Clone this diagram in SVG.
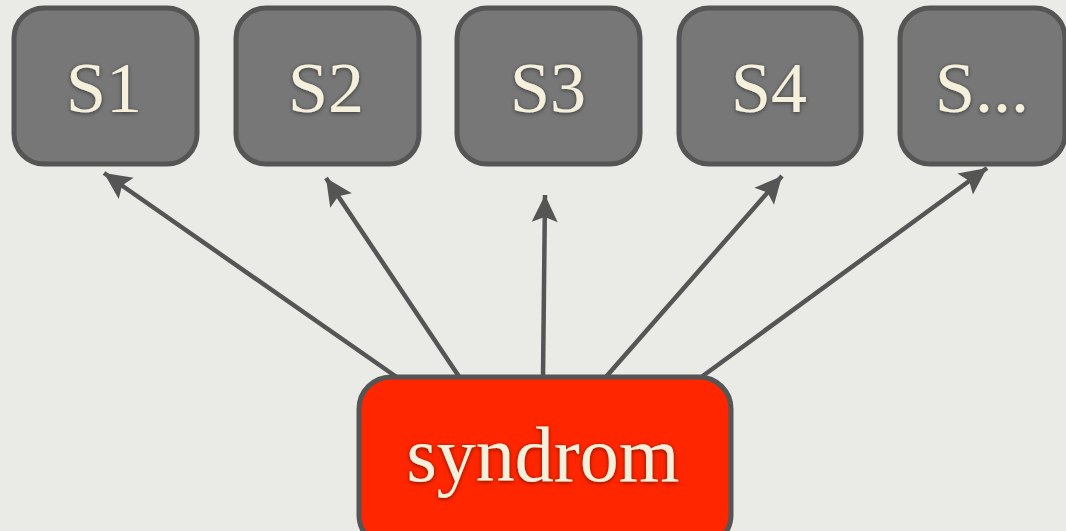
<svg xmlns="http://www.w3.org/2000/svg" width="1066" height="531" viewBox="0 0 1066 531">
<defs>
<style>
.node rect{stroke:#555555;stroke-width:5}
.g rect{fill:#777777}
.r rect{fill:#ff2600}
text{font-family:"Liberation Serif","DejaVu Serif",serif;font-size:72px;fill:#f4f0dc;text-anchor:middle;filter:url(#sh)}
.big{font-size:78px}
.edges line{stroke:#555555;stroke-width:4.5;marker-end:url(#ah)}
</style>
<filter id="sh" x="-20%" y="-20%" width="140%" height="140%">
<feDropShadow dx="0" dy="1" stdDeviation="2" flood-color="#000" flood-opacity="0.55"/>
</filter>
<marker id="ah" markerUnits="userSpaceOnUse" markerWidth="30" markerHeight="30" viewBox="0 0 30 30" refX="28" refY="15" orient="auto">
<path d="M1,2 L28,15 L1,28 L6,15 Z" fill="#555555"/>
</marker>
</defs>
<rect width="1066" height="531" fill="#eaeae7"/>
<g class="edges" id="connectors">
<line x1="398" y1="378" x2="104" y2="173"/>
<line x1="460" y1="378" x2="326" y2="178"/>
<line x1="543" y1="378" x2="545" y2="195"/>
<line x1="605" y1="378" x2="782" y2="176"/>
<line x1="700" y1="378" x2="987" y2="168"/>
</g>
<g class="node g" id="S1"><rect x="14" y="8" width="183" height="156" rx="30"/><text x="104" y="112">S1</text></g>
<g class="node g" id="S2"><rect x="236" y="8" width="183" height="156" rx="30"/><text x="326" y="112">S2</text></g>
<g class="node g" id="S3"><rect x="457" y="8" width="183" height="156" rx="30"/><text x="548" y="112">S3</text></g>
<g class="node g" id="S4"><rect x="679" y="8" width="182" height="156" rx="30"/><text x="769" y="112">S4</text></g>
<g class="node g" id="Sdots"><rect x="900" y="8" width="165" height="156" rx="30"/><text x="982" y="112">S...</text></g>
<g class="node r" id="syndrom"><rect x="359" y="377" width="372" height="170" rx="32"/><text class="big" x="543" y="481">syndrom</text></g>
</svg>
